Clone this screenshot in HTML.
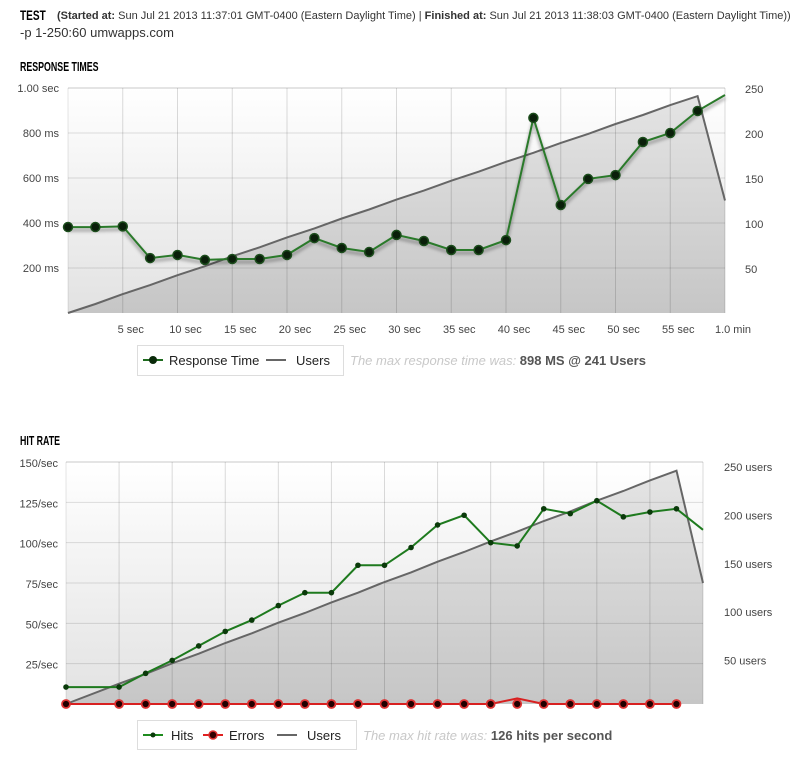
<!DOCTYPE html>
<html><head><meta charset="utf-8">
<style>
html,body{margin:0;padding:0;background:#fff;}
svg{display:block;font-family:"Liberation Sans",sans-serif;}
</style></head>
<body>
<svg id="root" width="800" height="767" viewBox="0 0 800 767" xmlns="http://www.w3.org/2000/svg">
<defs>
<linearGradient id="bg" x1="0" y1="0" x2="0" y2="1"><stop offset="0" stop-color="#ffffff"/><stop offset="1" stop-color="#e2e2e2"/></linearGradient>
<linearGradient id="ua" x1="0" y1="0" x2="0" y2="1"><stop offset="0" stop-color="#e4e4e4"/><stop offset="1" stop-color="#c6c6c6"/></linearGradient>
<filter id="sh" x="-5%" y="-5%" width="110%" height="120%"><feGaussianBlur stdDeviation="1.5"/></filter>
</defs>
<g>
<text x="20" y="20" font-size="14" font-weight="bold" transform="translate(20 0) scale(0.72 1) translate(-20 0)">TEST</text>
<text x="57" y="19" font-size="11" fill="#333"><tspan font-weight="bold">(Started at:</tspan> Sun Jul 21 2013 11:37:01 GMT-0400 (Eastern Daylight Time)  |  <tspan font-weight="bold">Finished at:</tspan> Sun Jul 21 2013 11:38:03 GMT-0400 (Eastern Daylight Time))</text>
<text x="20" y="37" font-size="13" fill="#333">-p 1-250:60 umwapps.com</text>
<text x="20" y="71" font-size="13" font-weight="bold" transform="translate(20 0) scale(0.68 1) translate(-20 0)">RESPONSE TIMES</text>
<text x="20" y="445" font-size="13" font-weight="bold" transform="translate(20 0) scale(0.68 1) translate(-20 0)">HIT RATE</text>
</g>
<g id="c1"></g>
<g id="c2"></g>
<g>
<rect x="137.5" y="345.5" width="206" height="30" fill="#fff" stroke="#ddd"/>
<line x1="143" y1="360" x2="163" y2="360" stroke="#1e6b1e" stroke-width="2"/>
<circle cx="153" cy="360" r="4" fill="#0a2a0a"/>
<text x="169" y="365" font-size="13" fill="#222">Response Time</text>
<line x1="266" y1="360" x2="286" y2="360" stroke="#666" stroke-width="2"/>
<text x="296" y="365" font-size="13" fill="#222">Users</text>
<text x="350" y="365" font-size="13" fill="#c8c8c8" font-style="italic">The max response time was: <tspan fill="#555" font-weight="bold" font-style="normal">898 MS @ 241 Users</tspan></text>
</g>
<g>
<rect x="137.5" y="720.5" width="219" height="29" fill="#fff" stroke="#ddd"/>
<line x1="143" y1="735" x2="163" y2="735" stroke="#1e8b1e" stroke-width="2"/>
<circle cx="153" cy="735" r="2.5" fill="#0a3a0a"/>
<text x="171" y="740" font-size="13" fill="#222">Hits</text>
<line x1="203" y1="735" x2="223" y2="735" stroke="#e02020" stroke-width="2"/>
<circle cx="213" cy="735" r="4" fill="#300" stroke="#d33" stroke-width="1.5"/>
<text x="229" y="740" font-size="13" fill="#222">Errors</text>
<line x1="277" y1="735" x2="297" y2="735" stroke="#666" stroke-width="2"/>
<text x="307" y="740" font-size="13" fill="#222">Users</text>
<text x="363" y="740" font-size="13" fill="#c8c8c8" font-style="italic">The max hit rate was: <tspan fill="#555" font-weight="bold" font-style="normal">126 hits per second</tspan></text>
</g>
</svg>
<script>
// Response times chart data
const rtTimes = [0,2.5,5,7.5,10,12.5,15,17.5,20,22.5,25,27.5,30,32.5,35,37.5,40,42.5,45,47.5,50,52.5,55,57.5,60];
const rtValues = [382,382,385,244,258,236,240,240,258,333,289,271,347,320,280,280,324,867,480,596,613,760,800,898,969];
const rtUsers = [0,10,21,31,42,52,63,73,84,94,105,115,126,136,147,157,168,178,189,199,210,220,231,241,125];
const rtLeftTicks = [200,400,600,800,1000];
const rtLeftLabels = ["200 ms","400 ms","600 ms","800 ms","1.00 sec"];
const rtRightTicks = [50,100,150,200,250];
const rtXTicks = [5,10,15,20,25,30,35,40,45,50,55,60];
const rtXLabels = ["5 sec","10 sec","15 sec","20 sec","25 sec","30 sec","35 sec","40 sec","45 sec","50 sec","55 sec","1.0 min"];
// Hit rate chart data
const hrTimes = [0,5,7.5,10,12.5,15,17.5,20,22.5,25,27.5,30,32.5,35,37.5,40,42.5,45,47.5,50,52.5,55,57.5,60];
const hrHits = [10.5,10.5,19,27,36,45,52,61,69,69,86,86,97,111,117,100,98,121,118,126,116,119,121,108];
const hrErrors = [0,0,0,0,0,0,0,0,0,0,0,0,0,0,0,0,3.5,0,0,0,0,0,0,0];
const hrUsers = [0,21,31,42,52,63,73,84,94,105,115,126,136,147,157,168,178,189,199,210,220,231,241,125];
const hrLeftTicks = [25,50,75,100,125,150];
const hrLeftLabels = ["25/sec","50/sec","75/sec","100/sec","125/sec","150/sec"];
const hrRightTicks = [50,100,150,200,250];
const hrRightLabels = ["50 users","100 users","150 users","200 users","250 users"];
const hrXTicks = [5,10,15,20,25,30,35,40,45,50,55,60];

const NS="http://www.w3.org/2000/svg";
function mk(parent,tag,attrs){const e=document.createElementNS(NS,tag);for(const k in attrs)e.setAttribute(k,attrs[k]);parent.appendChild(e);return e;}
function pts(ts,vs,x,y){return ts.map((t,i)=>x(t).toFixed(1)+","+y(vs[i]).toFixed(1)).join(" ");}

function frame(g,X0,X1,YT,YB,x,yL,lt,ll,rt,rl,yR,xt,xl,lblX){
  const bg=mk(g,'rect',{x:X0,y:YT,width:X1-X0,height:YB-YT,fill:'url(#bg)'});
  
  
  return bg;
}
function grid(g,X0,X1,YT,YB,x,yL,lt,xt){
  lt.forEach(v=>{const l=mk(g,'line',{x1:X0,x2:X1,y1:yL(v),y2:yL(v),stroke:'#000','stroke-opacity':0.12});
    
    });
  mk(g,'line',{x1:X0,x2:X1,y1:YT,y2:YT,stroke:'#000','stroke-opacity':0.1});
  xt.forEach(t=>{const l=mk(g,'line',{x1:x(t),x2:x(t),y1:YT,y2:YB,stroke:'#000','stroke-opacity':0.14});
    
    });
  mk(g,'line',{x1:X0,x2:X0,y1:YT,y2:YB,stroke:'#000','stroke-opacity':0.1});
}

// Chart 1
(function(){
  const g=document.getElementById('c1');
  const X0=68,X1=725,YT=88,YB=313;
  const x=t=>X0+(X1-X0)*t/60;
  const y=v=>YB-(YB-YT)*v/1000;
  const yu=u=>YB-(YB-YT)*u/250;
  frame(g,X0,X1,YT,YB);
  const area=mk(g,'polygon',{points:x(0)+","+YB+" "+pts(rtTimes,rtUsers,x,yu)+" "+x(60)+","+YB,fill:'url(#ua)'});
  
  
  grid(g,X0,X1,YT,YB,x,y,rtLeftTicks,rtXTicks);
  const ul=mk(g,'polyline',{points:pts(rtTimes,rtUsers,x,yu),fill:'none',stroke:'#666','stroke-width':2});
  
  
  mk(g,'polyline',{points:pts(rtTimes,rtValues,x,v=>y(v)+3),fill:'none',stroke:'#000','stroke-opacity':0.3,'stroke-width':3,filter:'url(#sh)'});
  const rl=mk(g,'polyline',{points:pts(rtTimes,rtValues,x,y),fill:'none',stroke:'#2a7a2a','stroke-width':2});
  
  
  rtTimes.forEach((t,i)=>{ if(i===rtTimes.length-1)return;
    const c=mk(g,'circle',{cx:x(t),cy:y(rtValues[i]),r:4.5,fill:'#0a1f0a',stroke:'#1c4d1c','stroke-width':1.5});
    
    });
  rtLeftTicks.forEach((v,i)=>{const t=mk(g,'text',{x:59,y:y(v)+4,'text-anchor':'end','font-size':11,fill:'#444'});t.textContent=rtLeftLabels[i];
    
    });
  rtRightTicks.forEach(v=>{const t=mk(g,'text',{x:745,y:yu(v)+5,'font-size':11,fill:'#444'});t.textContent=String(v);
    
    });
  rtXTicks.forEach((s,i)=>{const t=mk(g,'text',{x:x(s)+8,y:333,'text-anchor':'middle','font-size':11,fill:'#444'});t.textContent=rtXLabels[i];
    
    });
})();

// Chart 2
(function(){
  const g=document.getElementById('c2');
  const X0=66,X1=703,YT=462,YB=704;
  const x=t=>X0+(X1-X0)*t/60;
  const y=v=>YB-(YB-YT)*v/150;
  const yu=u=>YB-(YB-YT)*u/250;
  frame(g,X0,X1,YT,YB);
  const area=mk(g,'polygon',{points:x(0)+","+YB+" "+pts(hrTimes,hrUsers,x,yu)+" "+x(60)+","+YB,fill:'url(#ua)'});
  
  
  grid(g,X0,X1,YT,YB,x,y,hrLeftTicks,hrXTicks);
  const ul=mk(g,'polyline',{points:pts(hrTimes,hrUsers,x,yu),fill:'none',stroke:'#666','stroke-width':2});
  
  
  const hl=mk(g,'polyline',{points:pts(hrTimes,hrHits,x,y),fill:'none',stroke:'#1e7a1e','stroke-width':2});
  
  
  hrTimes.forEach((t,i)=>{ if(i===hrTimes.length-1)return;
    const c=mk(g,'circle',{cx:x(t),cy:y(hrHits[i]),r:2.8,fill:'#0a3a0a'});
    
    });
  const el=mk(g,'polyline',{points:pts(hrTimes.slice(0,-1),hrErrors,x,y),fill:'none',stroke:'#d82020','stroke-width':2});
  
  
  hrTimes.forEach((t,i)=>{ if(i===hrTimes.length-1)return;
    const c=mk(g,'circle',{cx:x(t),cy:y(0),r:4,fill:'#200',stroke:'#d33','stroke-width':1.8});
    
    });
  hrLeftTicks.forEach((v,i)=>{const t=mk(g,'text',{x:58,y:y(v)+5,'text-anchor':'end','font-size':11,fill:'#444'});t.textContent=hrLeftLabels[i];
    
    });
  hrRightTicks.forEach((v,i)=>{const t=mk(g,'text',{x:724,y:yu(v)+9,'font-size':11,fill:'#444'});t.textContent=hrRightLabels[i];
    
    });
})();
</script>
</body></html>
